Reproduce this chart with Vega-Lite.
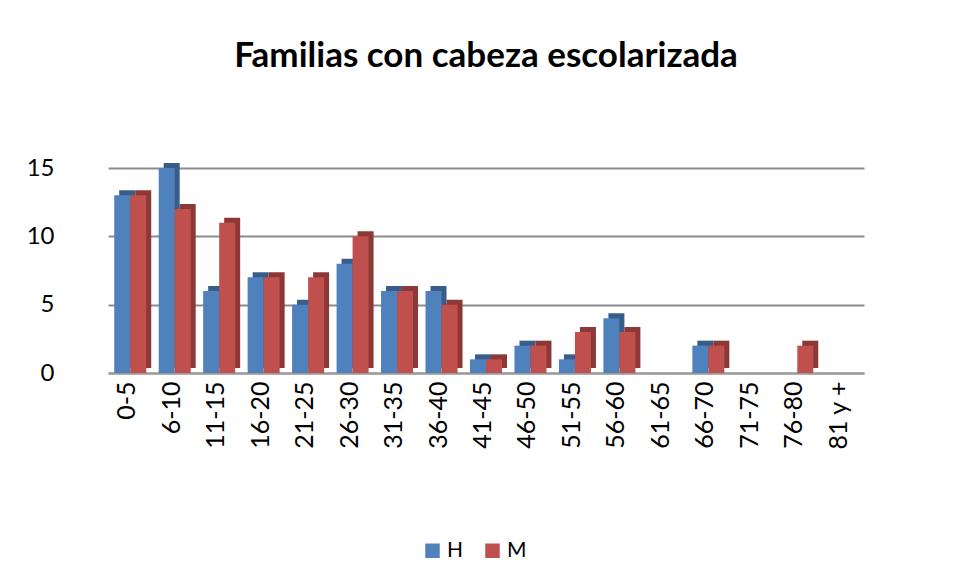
{
  "$schema": "https://vega.github.io/schema/vega-lite/v6.json",
  "autosize": "none",
  "width": 756,
  "height": 205,
  "padding": {"left": 108, "top": 168, "right": 92, "bottom": 206},
  "background": "white",
  "config": {"font": "Lato", "view": {"stroke": null}},
  "title": {"text": "Familias con cabeza escolarizada", "fontSize": 35, "fontWeight": "bold", "font": "Lato", "color": "black", "offset": 82},
  "data": {"values": [
    {"edad": "0-5", "sexo": "H", "n": 13}, {"edad": "0-5", "sexo": "M", "n": 13},
    {"edad": "6-10", "sexo": "H", "n": 15}, {"edad": "6-10", "sexo": "M", "n": 12},
    {"edad": "11-15", "sexo": "H", "n": 6}, {"edad": "11-15", "sexo": "M", "n": 11},
    {"edad": "16-20", "sexo": "H", "n": 7}, {"edad": "16-20", "sexo": "M", "n": 7},
    {"edad": "21-25", "sexo": "H", "n": 5}, {"edad": "21-25", "sexo": "M", "n": 7},
    {"edad": "26-30", "sexo": "H", "n": 8}, {"edad": "26-30", "sexo": "M", "n": 10},
    {"edad": "31-35", "sexo": "H", "n": 6}, {"edad": "31-35", "sexo": "M", "n": 6},
    {"edad": "36-40", "sexo": "H", "n": 6}, {"edad": "36-40", "sexo": "M", "n": 5},
    {"edad": "41-45", "sexo": "H", "n": 1}, {"edad": "41-45", "sexo": "M", "n": 1},
    {"edad": "46-50", "sexo": "H", "n": 2}, {"edad": "46-50", "sexo": "M", "n": 2},
    {"edad": "51-55", "sexo": "H", "n": 1}, {"edad": "51-55", "sexo": "M", "n": 3},
    {"edad": "56-60", "sexo": "H", "n": 4}, {"edad": "56-60", "sexo": "M", "n": 3},
    {"edad": "61-65", "sexo": "H", "n": 0}, {"edad": "61-65", "sexo": "M", "n": 0},
    {"edad": "66-70", "sexo": "H", "n": 2}, {"edad": "66-70", "sexo": "M", "n": 2},
    {"edad": "71-75", "sexo": "H", "n": 0}, {"edad": "71-75", "sexo": "M", "n": 0},
    {"edad": "76-80", "sexo": "H", "n": 0}, {"edad": "76-80", "sexo": "M", "n": 2},
    {"edad": "81 y +", "sexo": "H", "n": 0}, {"edad": "81 y +", "sexo": "M", "n": 0}
  ]},
  "encoding": {
    "x": {"field": "edad", "type": "nominal", "sort": null, "title": null,
      "scale": {"paddingInner": 0.28, "paddingOuter": 0.14},
      "axis": {"labelAngle": -90, "labelFontSize": 25, "labelColor": "black", "labelPadding": 8, "ticks": false, "domainColor": "#9a9a9a", "domainWidth": 2, "labelFont": "Lato", "labelOffset": -3}},
    "y": {"field": "n", "type": "quantitative", "title": null,
      "scale": {"domain": [0, 15]},
      "axis": {"values": [0, 5, 10, 15], "labelFontSize": 24, "labelColor": "black", "labelPadding": 54, "ticks": false, "domain": false, "gridColor": "#8c8c8c", "gridWidth": 2, "labelFont": "Lato"}}
  },
  "layer": [
    {
      "mark": {"type": "bar", "yOffset": -5},
      "encoding": {
        "xOffset": {"field": "sexo", "type": "nominal", "scale": {"domain": ["H", "M"], "range": [5, 37]}},
        "color": {"field": "sexo", "type": "nominal", "legend": null,
          "scale": {"domain": ["H", "M"], "range": ["#385D8A", "#8C3836"]}}
      }
    },
    {
      "mark": {"type": "bar"},
      "encoding": {
        "xOffset": {"field": "sexo", "type": "nominal", "scale": {"domain": ["H", "M"]}},
        "color": {"field": "sexo", "type": "nominal", "title": null,
          "scale": {"domain": ["H", "M"], "range": ["#4F81BD", "#C0504D"]},
          "legend": {"orient": "none", "legendX": 314, "legendY": 372, "direction": "horizontal", "symbolType": "square", "symbolSize": 210, "symbolStrokeWidth": 0, "labelFontSize": 21, "labelColor": "black", "labelOffset": 4, "columnPadding": 18, "labelFont": "Lato"}}
      }
    }
  ],
  "resolve": {"scale": {"color": "independent", "xOffset": "independent"}}
}
